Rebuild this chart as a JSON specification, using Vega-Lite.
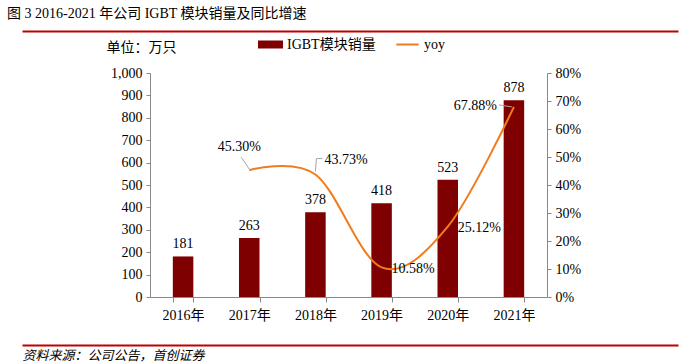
{
  "$schema": "https://vega.github.io/schema/vega-lite/v6.json",
  "width": 397,
  "height": 224,
  "autosize": {"type": "none"},
  "padding": {"left": 150, "top": 73, "right": 134, "bottom": 66},
  "background": "white",
  "title": {
    "text": "图 3 2016-2021 年公司 IGBT 模块销量及同比增速",
    "anchor": "start",
    "frame": "group",
    "dx": -143,
    "offset": 10,
    "fontSize": 14,
    "fontWeight": "normal",
    "color": "#000000",
    "font": "Liberation Serif, Noto Sans CJK SC"
  },
  "data": {
    "values": [
      {"year": "2016年", "sales": 181, "yoy": null},
      {"year": "2017年", "sales": 263, "yoy": 0.453},
      {"year": "2018年", "sales": 378, "yoy": 0.4373},
      {"year": "2019年", "sales": 418, "yoy": 0.1058},
      {"year": "2020年", "sales": 523, "yoy": 0.2512},
      {"year": "2021年", "sales": 878, "yoy": 0.6788}
    ]
  },
  "config": {
    "view": {"stroke": null},
    "font": "Liberation Serif, Noto Sans CJK SC",
    "axis": {
      "labelFont": "Liberation Serif, Noto Sans CJK SC",
      "labelColor": "#000000",
      "labelFontSize": 14,
      "domainColor": "#898989",
      "tickColor": "#898989",
      "grid": false
    },
    "legend": {
      "labelFont": "Liberation Serif, Noto Sans CJK SC",
      "labelFontSize": 14,
      "labelColor": "#000000"
    },
    "text": {"font": "Liberation Serif, Noto Sans CJK SC", "fontSize": 14, "color": "#000000"}
  },
  "layer": [
    {
      "encoding": {
        "x": {
          "field": "year",
          "type": "ordinal",
          "sort": null,
          "scale": {"paddingInner": 0.69, "paddingOuter": 0.345},
          "axis": {
            "orient": "bottom",
            "labelAngle": 0,
            "tickBand": "extent",
            "tickSize": 5,
            "labelPadding": 6,
            "title": "资料来源：公司公告，首创证券",
            "titleFont": "Liberation Serif, Noto Sans CJK SC",
            "titleFontStyle": "italic",
            "titleFontWeight": "normal",
            "titleFontSize": 13,
            "titleColor": "#000000",
            "titleAnchor": null,
            "titleAlign": "left",
            "titleBaseline": "middle",
            "titleX": -128,
            "titleY": 58
          }
        }
      },
      "layer": [
        {
          "encoding": {
            "y": {
              "field": "sales",
              "type": "quantitative",
              "scale": {"domain": [0, 1000], "nice": false},
              "axis": {
                "orient": "left",
                "values": [0, 100, 200, 300, 400, 500, 600, 700, 800, 900, 1000],
                "format": ",d",
                "tickSize": 4,
                "labelPadding": 4,
                "title": "单位：万只",
                "titleAngle": 0,
                "titleFont": "Liberation Serif, Noto Sans CJK SC",
                "titleFontWeight": "normal",
                "titleFontSize": 14,
                "titleColor": "#000000",
                "titleAnchor": null,
                "titleAlign": "center",
                "titleBaseline": "middle",
                "titleX": -9,
                "titleY": -26
              }
            }
          },
          "layer": [
            {
              "mark": {"type": "bar", "color": "#7F0000"},
              "encoding": {
                "fill": {
                  "datum": "IGBT模块销量",
                  "scale": {"range": ["#7F0000"]},
                  "legend": {
                    "orient": "none",
                    "legendX": 108,
                    "legendY": -41,
                    "title": null,
                    "symbolType": "M-1,-0.32H1V0.32H-1Z",
                    "symbolSize": 625,
                    "symbolStrokeWidth": 0
                  }
                }
              }
            },
            {
              "mark": {"type": "text", "baseline": "bottom", "dy": -5},
              "encoding": {
                "text": {"field": "sales", "type": "quantitative"}
              }
            }
          ]
        },
        {
          "encoding": {
            "y": {
              "field": "yoy",
              "type": "quantitative",
              "scale": {"domain": [0, 0.8], "nice": false},
              "axis": {
                "orient": "right",
                "values": [0, 0.1, 0.2, 0.3, 0.4, 0.5, 0.6, 0.7, 0.8],
                "format": ".0%",
                "tickSize": 4,
                "labelPadding": 4,
                "title": null
              }
            }
          },
          "layer": [
            {
              "mark": {"type": "line", "interpolate": "cardinal", "color": "#F07C1E", "strokeWidth": 2},
              "encoding": {
                "stroke": {
                  "datum": "yoy",
                  "scale": {"range": ["#F07C1E"]},
                  "legend": {
                    "orient": "none",
                    "legendX": 245,
                    "legendY": -41,
                    "title": null,
                    "symbolType": "stroke",
                    "symbolSize": 500,
                    "symbolStrokeWidth": 2
                  }
                }
              }
            },
            {
              "transform": [{"filter": "datum.year == '2017年'"}],
              "mark": {"type": "rule", "color": "#A6A6A6", "strokeWidth": 1, "xOffset": 0, "yOffset": -1, "x2Offset": -8, "y2Offset": -13},
              "encoding": {"x2": {"field": "year"}, "y2": {"field": "yoy"}}
            },
            {
              "transform": [{"filter": "datum.year == '2018年'"}],
              "mark": {"type": "rule", "color": "#A6A6A6", "strokeWidth": 1, "xOffset": 0, "yOffset": -3, "x2Offset": 1, "y2Offset": -16},
              "encoding": {"x2": {"field": "year"}, "y2": {"field": "yoy"}}
            },
            {
              "transform": [{"filter": "datum.year == '2018年'"}],
              "mark": {"type": "rule", "color": "#A6A6A6", "strokeWidth": 1, "xOffset": 1, "yOffset": -16, "x2Offset": 7, "y2Offset": -16},
              "encoding": {"x2": {"field": "year"}, "y2": {"field": "yoy"}}
            },
            {
              "transform": [{"filter": "datum.year == '2021年'"}],
              "mark": {"type": "rule", "color": "#A6A6A6", "strokeWidth": 1, "xOffset": -15, "yOffset": -2, "x2Offset": -2, "y2Offset": 0},
              "encoding": {"x2": {"field": "year"}, "y2": {"field": "yoy"}}
            },
            {
              "transform": [{"filter": "datum.year == '2017年'"}],
              "mark": {"type": "text", "align": "center", "baseline": "middle", "dx": -10, "dy": -23},
              "encoding": {
                "text": {"field": "yoy", "type": "quantitative", "format": ".2%"}
              }
            },
            {
              "transform": [{"filter": "datum.year == '2018年'"}],
              "mark": {"type": "text", "align": "left", "baseline": "middle", "dx": 9, "dy": -15},
              "encoding": {
                "text": {"field": "yoy", "type": "quantitative", "format": ".2%"}
              }
            },
            {
              "transform": [{"filter": "datum.year == '2019年'"}],
              "mark": {"type": "text", "align": "left", "baseline": "middle", "dx": 10, "dy": 2},
              "encoding": {
                "text": {"field": "yoy", "type": "quantitative", "format": ".2%"}
              }
            },
            {
              "transform": [{"filter": "datum.year == '2020年'"}],
              "mark": {"type": "text", "align": "left", "baseline": "middle", "dx": 10, "dy": 1},
              "encoding": {
                "text": {"field": "yoy", "type": "quantitative", "format": ".2%"}
              }
            },
            {
              "transform": [{"filter": "datum.year == '2021年'"}],
              "mark": {"type": "text", "align": "right", "baseline": "middle", "dx": -17, "dy": -1},
              "encoding": {
                "text": {"field": "yoy", "type": "quantitative", "format": ".2%"}
              }
            }
          ]
        }
      ],
      "resolve": {"scale": {"y": "independent"}}
    },
    {
      "mark": {"type": "point", "opacity": 0},
      "encoding": {
        "x": {
          "datum": 0,
          "type": "quantitative",
          "scale": {"domain": [0, 1], "range": [-128, 528], "nice": false, "zero": false},
          "axis": {
            "orient": "top",
            "offset": 42,
            "domainColor": "#C00000",
            "domainWidth": 2,
            "labels": false,
            "ticks": false,
            "grid": false,
            "title": null
          }
        }
      }
    },
    {
      "mark": {"type": "point", "opacity": 0},
      "encoding": {
        "x": {
          "datum": 0,
          "type": "quantitative",
          "scale": {"domain": [0, 1], "range": [-128, 528], "nice": false, "zero": false},
          "axis": {
            "orient": "bottom",
            "offset": 48,
            "domainColor": "#C00000",
            "domainWidth": 2,
            "labels": false,
            "ticks": false,
            "grid": false,
            "title": null
          }
        }
      }
    }
  ],
  "resolve": {"scale": {"x": "independent", "y": "independent"}}
}
